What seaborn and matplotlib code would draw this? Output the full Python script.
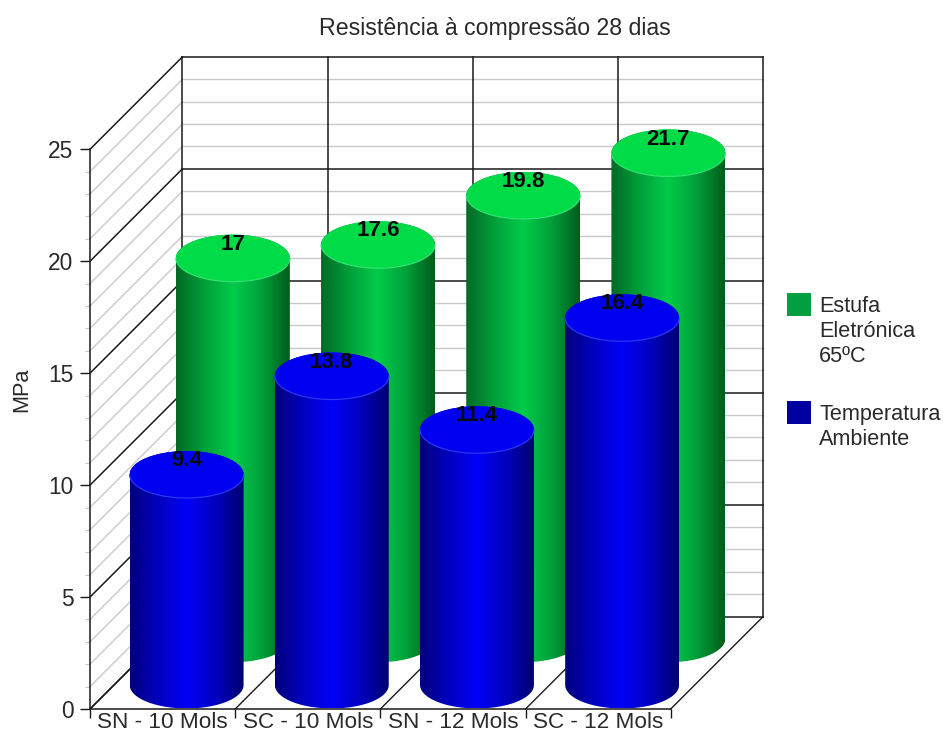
import matplotlib
matplotlib.use("Agg")
import matplotlib.pyplot as plt
from matplotlib.patches import Ellipse, PathPatch, Rectangle
from matplotlib.path import Path
import numpy as np
import pandas as pd
import seaborn as sns

categories = ["SN - 10 Mols", "SC - 10 Mols", "SN - 12 Mols", "SC - 12 Mols"]
estufa_values = [17, 17.6, 19.8, 21.7]
ambiente_values = [9.4, 13.8, 11.4, 16.4]
series_names = ["Estufa\nEletrónica\n65ºC", "Temperatura\nAmbiente"]
series_colors = ["#00a040", "#0000a0"]
y_ticks = [0, 5, 10, 15, 20, 25]

# Oblique projection of the depth axis, in data units of the front plane
DEPTH_X = 0.637
DEPTH_Y = 4.13
CAP_RY = 1.05
BAR_WIDTH = 0.785
GRID_MINOR = "#cdc8cd"
GRID_MAJOR = "#1a1a1a"
TEXT = "#2a2a2a"

sns.set_theme(style="white")
plt.rcParams["font.family"] = ["Liberation Sans", "DejaVu Sans"]

fig = plt.figure(figsize=(9.43, 7.35), dpi=100, facecolor="white")
W, H = 943, 735
ax = fig.add_axes([90 / W, 1 - 709 / H, 580.7 / W, 559.7 / H])

frame = pd.DataFrame({"categoria": categories, "estufa": estufa_values, "ambiente": ambiente_values})


def depth_line(x0, y0, d0, x1, y1, d1, color, lw, z=1):
    ax.plot([x0 + d0 * DEPTH_X, x1 + d1 * DEPTH_X],
            [y0 + d0 * DEPTH_Y, y1 + d1 * DEPTH_Y],
            color=color, lw=lw, zorder=z, clip_on=False, solid_capstyle="projecting")


def cylinder(rect, depth, cmap, cap, rim):
    """Turn a flat bar from the barplot into a shaded cylinder standing at a given depth."""
    left = rect.get_x() + depth * DEPTH_X
    width = rect.get_width()
    right = left + width
    base = depth * DEPTH_Y
    top = base + rect.get_height()
    cx = left + width / 2

    t = np.linspace(0, np.pi, 80)
    xs = np.r_[cx - width / 2 * np.cos(t), cx + width / 2 * np.cos(t)]
    ys = np.r_[top + CAP_RY * np.sin(t), base - CAP_RY * np.sin(t)]
    outline = PathPatch(Path(np.column_stack([xs, ys])), transform=ax.transData,
                        facecolor="none", edgecolor="none")
    ax.add_patch(outline)
    outline.set_clip_on(False)

    shade = np.linspace(0, 1, 256)[None, :]
    image = ax.imshow(shade, extent=[left, right, base - CAP_RY, top + CAP_RY], cmap=cmap,
                      aspect="auto", zorder=3, interpolation="bilinear", vmin=0, vmax=1)
    image.set_clip_path(outline)
    image.set_clip_box(fig.bbox)

    ax.add_patch(Ellipse((cx, top), width, 2 * CAP_RY, facecolor=cap, edgecolor="none",
                         zorder=3, clip_on=False))
    # Pale rim along the near edge of the cap
    ax.plot(cx - width / 2 * np.cos(t), top - CAP_RY * np.sin(t), color=rim, lw=0.9,
            zorder=3, clip_on=False)
    ax.text(cx, top + 0.62, f"{rect.get_height():g}", ha="center", va="center",
            fontsize=16, fontweight="bold", color="#0a0a0a", zorder=6, clip_on=False)


# Flat bars supply the value scale; the cylinders are built from their geometry
sns.barplot(data=frame, x="categoria", y="estufa", color=series_colors[0], width=BAR_WIDTH, ax=ax)
sns.barplot(data=frame, x="categoria", y="ambiente", color=series_colors[1], width=BAR_WIDTH, ax=ax)

green_bars = list(ax.patches[:4])
blue_bars = list(ax.patches[4:8])

ax.set_xlim(-0.5, 3.5)
ax.set_ylim(0, 25)

# Back wall, left wall and floor
for v in range(0, 26):
    major = v % 5 == 0
    color = GRID_MAJOR if major else GRID_MINOR
    lw = 1.1 if major else 1.0
    depth_line(-0.5, v, 1, 3.5, v, 1, color, lw, z=1.5 if major else 1)
    depth_line(-0.5, v, 0, -0.5, v, 1, color, lw, z=1.5 if major else 1)
for b in np.arange(-0.5, 4.0, 1.0):
    depth_line(b, 0, 0, b, 0, 1, GRID_MAJOR, 1.0, z=1.5)
    depth_line(b, 0, 1, b, 25, 1, GRID_MAJOR, 1.1, z=1.5)

green_map = sns.blend_palette(["#006a24", "#00a03a", "#00cc4a", "#00a03a", "#005c1c"], as_cmap=True)
blue_map = sns.blend_palette(["#00007c", "#0000c0", "#0000f8", "#0000c0", "#000070"], as_cmap=True)

for rect in green_bars:
    cylinder(rect, 0.76, green_map, "#00dc48", "#30e070")
for rect in blue_bars:
    cylinder(rect, 0.26, blue_map, "#0000f0", "#2838f0")
for rect in green_bars + blue_bars:
    rect.set_visible(False)

ax.set_xlim(-0.5, 3.5)
ax.set_ylim(0, 25)

# Axes, ticks and labels
for side in ("top", "right"):
    ax.spines[side].set_visible(False)
for side in ("left", "bottom"):
    ax.spines[side].set_color(GRID_MAJOR)
    ax.spines[side].set_linewidth(1.1)
    ax.spines[side].set_zorder(7)
ax.patch.set_visible(False)

ax.set_xticks(range(4), categories)
ax.set_xticks(np.arange(-0.5, 4.0, 1.0), minor=True)
ax.set_yticks(y_ticks)
ax.set_yticks(np.arange(0, 26), minor=True)
ax.tick_params(axis="x", which="major", length=0, labelsize=16.2, labelcolor=TEXT, pad=2.5)
ax.tick_params(axis="x", which="minor", length=6.5, width=1, color=GRID_MAJOR, bottom=True)
ax.tick_params(axis="y", which="major", length=7, width=1, color=GRID_MAJOR, labelsize=16.4,
               labelcolor=TEXT, left=True, pad=5)
ax.tick_params(axis="y", which="minor", length=3.5, width=0.8, color=GRID_MINOR, left=True)
ax.set_xlabel("")
ax.set_ylabel("MPa", fontsize=15.7, color=TEXT, va="center")
ax.yaxis.set_label_coords((22 - 90) / 580.7, (709 - 390) / 559.7)

fig.text(495 / W, 1 - 28 / H, "Resistência à compressão 28 dias", ha="center", va="center",
         fontsize=16.7, color=TEXT)

# Legend swatches sit beside the first line of each label
legend_tops = [293, 401]
for top, color, name in zip(legend_tops, series_colors, series_names):
    fig.add_artist(Rectangle((787 / W, 1 - (top + 23) / H), 23.5 / W, 23 / H, facecolor=color,
                             edgecolor="none", transform=fig.transFigure))
    fig.text(819 / W, 1 - (top + 3) / H, name, ha="left", va="top", fontsize=15.6,
             color=TEXT, linespacing=1.24)

fig.savefig("out.png", dpi=100, facecolor="white")
